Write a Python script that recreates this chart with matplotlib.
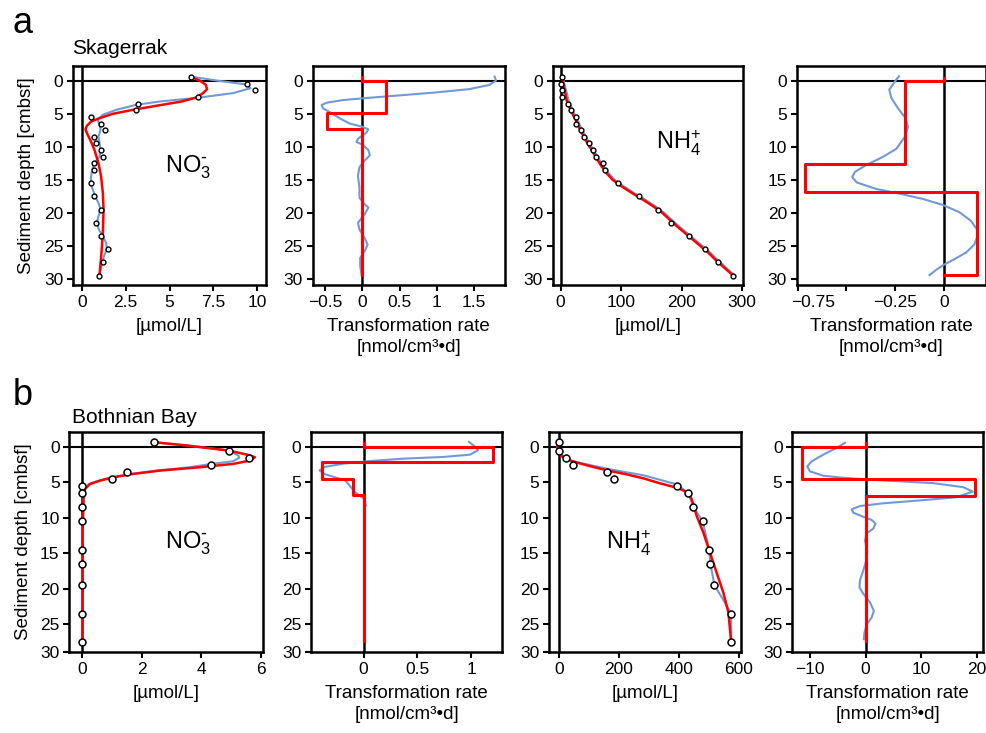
import matplotlib
matplotlib.use("Agg")
import matplotlib.pyplot as plt
import matplotlib.transforms as mtransforms
import numpy as np

plt.rcParams['font.family'] = ['Liberation Sans', 'DejaVu Sans']
plt.rcParams['mathtext.default'] = 'regular'

BLUE = '#6f9ad6'
RED = '#ff0000'

# ---- Skagerrak NO3 ----
a_no3_depth = [-0.5, 0.5, 1.5, 2.5, 3.5, 4.5, 5.5, 6.5, 7.5, 8.5, 9.5, 10.5, 11.5,
               12.5, 13.5, 15.5, 17.5, 19.5, 21.5, 23.5, 25.5, 27.5, 29.5]
a_no3_conc = [6.2, 9.4, 9.9, 6.6, 3.2, 3.1, 0.5, 1.1, 1.3, 0.7, 0.8, 1.1, 1.2,
              0.7, 0.7, 0.5, 0.7, 1.1, 0.8, 1.1, 1.5, 1.2, 1.0]
a_no3_blue_d = [-0.6, 0.0, 0.6, 1.16, 1.9, 2.57, 3.17, 3.67, 4.43, 5.18, 5.94, 6.7, 7.45,
                8.45, 9.46, 10.47, 11.47, 12.48, 13.49, 14.49, 15.5, 16.5, 17.5, 18.5,
                19.5, 20.5, 21.5, 22.5, 23.55, 24.56, 25.47, 26.57, 27.58, 28.59, 29.44]
a_no3_blue_c = [6.21, 7.68, 9.41, 9.62, 8.63, 6.72, 4.44, 3.10, 1.96, 1.20, 0.91, 1.01, 1.07,
                0.95, 1.01, 1.07, 1.01, 0.72, 0.59, 0.53, 0.50, 0.63, 0.76, 0.95,
                1.07, 0.95, 0.86, 0.97, 1.20, 1.39, 1.43, 1.26, 1.16, 1.07, 0.99]
a_no3_red_d = [-0.5, 0.0, 0.65, 1.31, 1.91, 2.57, 3.17, 3.82, 4.43, 5.03, 5.69, 6.19,
               6.84, 7.35, 7.95, 8.96, 10.47, 12.48, 14.49, 17.0, 19.53, 23.05, 26.07, 29.44]
a_no3_red_c = [6.25, 6.72, 7.07, 7.14, 6.91, 6.53, 5.68, 4.25, 2.91, 1.77, 1.01, 0.53,
               0.29, 0.21, 0.29, 0.48, 0.72, 0.95, 1.10, 1.20, 1.24, 1.20, 1.12, 1.01]

# ---- Skagerrak NO3 rate ----
a_no3_rate_edges = [-0.5, 0.0, 4.9, 7.4, 29.4]
a_no3_rate_vals = [0.0, 0.32, -0.48, 0.0]
a_no3_rate_blue_d = [-0.6, 0.0, 0.66, 1.3, 1.8, 2.2, 2.6, 2.95, 3.35, 3.7, 4.2, 4.9, 5.75,
                     6.5, 7.0, 7.37, 7.9, 8.8, 9.3, 9.66, 10.5, 11.3, 12.1, 13.1, 14.4,
                     16.2, 17.7, 18.7, 19.2, 20.2, 21.5, 22.5, 23.8, 24.8, 25.8, 26.8, 28.1, 29.4]
a_no3_rate_blue_v = [1.78, 1.80, 1.71, 1.44, 0.99, 0.55, 0.10, -0.26, -0.48, -0.55, -0.53, -0.42,
                     -0.30, -0.17, 0.0, 0.08, 0.05, -0.06, -0.08, 0.0, 0.08, 0.10, 0.03, -0.04,
                     -0.06, -0.04, -0.04, 0.03, 0.08, 0.03, -0.06, -0.04, 0.03, 0.07, 0.03,
                     -0.03, -0.03, -0.01]

# ---- Skagerrak NH4 ----
a_nh4_depth = [-0.56, 0.5, 1.5, 2.5, 3.5, 4.5, 5.5, 6.5, 7.5, 8.5, 9.5, 10.5, 11.5, 12.5,
               13.5, 15.5, 17.5, 19.5, 21.5, 23.5, 25.5, 27.5, 29.5]
a_nh4_conc = [2.8, 0.6, 1.7, 2.8, 12.1, 16.5, 25.3, 25.9, 33.0, 38.5, 46.2, 53.9, 58.3, 69.3,
              72.6, 94.7, 129.3, 161.8, 183.3, 211.9, 238.3, 260.9, 285.6]
a_nh4_line_d = [-0.6, 0.1, 1, 2, 3, 4, 5, 6, 7, 8, 9, 10, 11, 12, 13, 14, 15, 16, 17, 18, 19,
                20, 21, 22, 23, 24, 25, 26, 27, 28, 29.5]
a_nh4_red_c = [2.8, 3.5, 5.5, 8.0, 10.0, 14.5, 19.5, 25.0, 30.0, 35.5, 41.5, 48.0, 54.5, 61.0,
               68.0, 76.0, 86.0, 101.0, 118.0, 136.0, 153.0, 168.0, 180.0, 192.0, 205.0,
               218.0, 231.0, 244.0, 255.0, 267.0, 285.6]
a_nh4_blue_c = [3.5, 4.5, 7.0, 10.0, 12.5, 17.0, 22.0, 27.5, 32.5, 38.0, 44.0, 50.5, 57.0, 63.5,
                70.5, 78.5, 88.5, 103.5, 120.5, 138.5, 155.5, 170.5, 182.5, 194.5, 207.5,
                220.5, 233.5, 246.5, 257.5, 269.5, 287.0]

# ---- Skagerrak NH4 rate ----
a_nh4_rate_edges = [-0.4, 0.1, 12.6, 16.8, 29.4, 29.4]
a_nh4_rate_vals = [0.0, -0.2, -0.71, 0.17, 0.0]
a_nh4_rate_blue_d = [-0.66, 0.1, 1.37, 2.6, 4.2, 5.7, 7.0, 8.5, 10.3, 11.5, 12.8, 13.8, 14.6,
                     15.4, 16.4, 17.1, 17.9, 18.8, 19.9, 21.2, 22.5, 23.5, 24.8, 26.0, 27.0,
                     27.8, 28.6, 29.4]
a_nh4_rate_blue_v = [-0.23, -0.25, -0.28, -0.27, -0.235, -0.196, -0.184, -0.2, -0.243, -0.31,
                     -0.40, -0.456, -0.47, -0.447, -0.345, -0.226, -0.107, -0.005, 0.08, 0.139,
                     0.17, 0.173, 0.156, 0.114, 0.054, 0.003, -0.039, -0.073]

# ---- Bothnian Bay NO3 ----
b_no3_depth = [-0.66, 0.52, 1.51, 2.5, 3.48, 4.52, 5.5, 6.5, 8.5, 10.5, 14.5, 16.5, 19.5,
               23.5, 27.5]
b_no3_conc = [2.39, 4.92, 5.61, 4.31, 1.49, 1.0, 0, 0, 0, 0, 0, 0, 0, 0, 0]
b_no3_red_d = [-0.66, -0.2, 0.52, 1.08, 1.46, 1.93, 2.4, 2.87, 3.34, 3.81, 4.28, 4.76, 5.23,
               5.93, 7.1, 11.3, 27.6]
b_no3_red_c = [2.39, 3.5, 4.92, 5.52, 5.8, 5.63, 5.07, 3.95, 2.61, 1.71, 1.04, 0.59, 0.26,
               0.09, 0.03, 0.01, 0.0]
b_no3_blue_d = [-0.66, -0.2, 0.52, 1.22, 1.55, 2.02, 2.5, 2.87, 3.34, 3.81, 4.28, 4.76, 5.23,
                5.93, 7.1, 9.0, 11.3, 27.6]
b_no3_blue_c = [2.39, 3.5, 4.92, 5.24, 5.27, 5.07, 4.18, 3.6, 2.5, 1.65, 1.0, 0.55, 0.22,
                0.08, 0.06, 0.04, 0.01, 0.0]

# ---- Bothnian Bay NO3 rate ----
b_no3_rate_edges = [-0.5, 0.0, 2.2, 4.5, 6.8, 27.3]
b_no3_rate_vals = [0.0, 1.2, -0.39, -0.1, 0.0]
b_no3_rate_blue_d = [-0.7, -0.1, 0.47, 1.1, 1.42, 1.66, 2.0, 2.37, 2.85, 3.32, 3.8, 4.27,
                     4.74, 5.46, 6.4, 6.9, 7.35, 8.3]
b_no3_rate_blue_v = [0.98, 1.03, 1.065, 0.99, 0.74, 0.37, 0.06, -0.19, -0.37, -0.41, -0.37,
                     -0.27, -0.17, -0.13, -0.08, -0.034, 0.006, 0.02]

# ---- Bothnian Bay NH4 ----
b_nh4_depth = [-0.71, 0.57, 1.5, 2.55, 3.54, 4.48, 5.52, 6.51, 8.54, 10.5, 14.5, 16.5, 19.5,
               23.5, 27.5]
b_nh4_conc = [0, 1, 22, 44.6, 160.6, 181.8, 393.7, 431.6, 448.3, 479.5, 500.7, 505.2, 518.6,
              574.3, 574.3]
b_nh4_red_d = [-0.71, -0.14, 0.57, 1.13, 1.75, 2.2, 2.83, 3.4, 3.87, 4.43, 5.14, 5.75, 6.46,
               7.4, 9.76, 12.1, 14.95, 17.8, 20.6, 23.4, 27.5]
b_nh4_red_c = [0, -5.6, -6.7, 2.2, 24.5, 58, 113.7, 169.5, 225, 281, 336.8, 392.6, 431.6,
               442.7, 459.5, 481.8, 504, 526.4, 548.7, 565.4, 574.3]
b_nh4_blue_d = [-0.71, -0.14, 0.57, 1.27, 1.98, 2.45, 3.16, 4.0, 5.28, 6.5, 8.5, 10.5, 14.5,
                16.5, 19.5, 21.6, 23.5, 27.5]
b_nh4_blue_c = [0, -6, -3, 13.4, 41.3, 91.4, 169.5, 281, 392.6, 431.6, 448.3, 479.5, 500.7,
                505.2, 518.6, 548.7, 574.3, 574.3]

# ---- Bothnian Bay NH4 rate ----
b_nh4_rate_edges = [-0.5, 0.0, 4.55, 6.87, 27.4]
b_nh4_rate_vals = [0.0, -11.5, 19.8, 0.0]
b_nh4_rate_blue_d = [-0.57, 0.14, 1.09, 2.04, 2.75, 3.46, 4.07, 4.4, 4.73, 5.11, 5.68, 6.3,
                     7.1, 7.58, 7.95, 8.33, 8.8, 9.28, 9.85, 10.3, 10.8, 11.5, 12.2, 13.2,
                     14.6, 15.8, 17.4, 18.8, 19.8, 20.7, 21.9, 23.1, 24.05, 25.0, 26.2, 27.1]
b_nh4_rate_blue_v = [-3.7, -5.2, -7.6, -9.7, -10.5, -10.0, -7.6, -3.4, 3.2, 12.2, 17.6, 19.3,
                     16.4, 9.2, 3.2, -1.0, -2.5, -2.2, -0.4, 1.1, 1.8, 1.4, 0.2, -0.1,
                     0.3, 0.2, -0.4, -1.0, -1.1, -0.4, 0.8, 1.5, 1.1, 0.2, -0.2, -0.3]


def step_xy(edges, vals):
    xs = np.repeat(vals, 2)
    ys = np.column_stack([edges[:-1], edges[1:]]).ravel()
    return xs, ys


def setup(ax, xlim, xticks, xlabels, row, xlabel):
    ax.set_xlim(*xlim)
    if row == 'a':
        ax.set_ylim(30.9, -2.2)
        ax.set_yticks([0, 5, 10, 15, 20, 25, 30])
    else:
        # axis is cut short, the "30" label sits on the bottom edge
        ax.set_ylim(28.9, -2.1)
        ax.set_yticks([0, 5, 10, 15, 20, 25, 28.9])
    ax.set_yticklabels(['0', '5', '10', '15', '20', '25', '30'])
    ax.set_xticks(xticks)
    ax.set_xticklabels(xlabels)
    ax.axhline(0, color='black', lw=1.5, zorder=1)
    ax.axvline(0, color='black', lw=1.8, zorder=1)
    for s in ax.spines.values():
        s.set_linewidth(1.8)
    ax.tick_params(direction='out', length=4, width=1.5, labelsize=12.5, pad=3)
    ax.set_xlabel(xlabel, fontsize=13.5, labelpad=6, linespacing=1.3)


fig = plt.figure(figsize=(9.87, 7.33), dpi=100)

rowa_b, rowa_h = 0.6112, 0.2988
rowb_b, rowb_h = 0.1105, 0.3002
ax_a = [fig.add_axes([0.074, rowa_b, 0.1955, rowa_h]),
        fig.add_axes([0.3168, rowa_b, 0.1948, rowa_h]),
        fig.add_axes([0.560, rowa_b, 0.1925, rowa_h]),
        fig.add_axes([0.8072, rowa_b, 0.1915, rowa_h])]
ax_b = [fig.add_axes([0.0702, rowb_b, 0.1966, rowb_h]),
        fig.add_axes([0.3151, rowb_b, 0.1938, rowb_h]),
        fig.add_axes([0.5562, rowb_b, 0.1942, rowb_h]),
        fig.add_axes([0.8027, rowb_b, 0.1935, rowb_h])]

conc_label = '[µmol/L]'
rate_label = 'Transformation rate\n[nmol/cm³•d]'
no3_text = r'NO$_3^{\text{-}}$'
nh4_text = r'NH$_4^{+}$'

# row a
ax = ax_a[0]
ax.plot(a_no3_blue_c, a_no3_blue_d, color=BLUE, lw=1.5, zorder=2)
ax.plot(a_no3_red_c, a_no3_red_d, color=RED, lw=1.8, zorder=3)
ax.plot(a_no3_conc, a_no3_depth, 'o', ms=3.5, mfc='white', mec='black', mew=1.0, zorder=4)
setup(ax, (-0.5, 10.5), [0, 2.5, 5, 7.5, 10], ['0', '2.5', '5', '7.5', '10'], 'a', conc_label)
ax.text(4.72, 13.9, no3_text, fontsize=17, ha='left', va='baseline')
ax.set_ylabel('Sediment depth [cmbsf]', fontsize=13.5, labelpad=6)

ax = ax_a[1]
ax.plot(a_no3_rate_blue_v, a_no3_rate_blue_d, color=BLUE, lw=1.5, zorder=2)
x, y = step_xy(a_no3_rate_edges, a_no3_rate_vals)
ax.plot(x, y, color=RED, lw=2.2, zorder=3)
setup(ax, (-0.67, 1.92), [-0.5, 0, 0.5, 1, 1.5], ['\u22120.5', '0', '0.5', '1', '1.5'], 'a', rate_label)

ax = ax_a[2]
ax.plot(a_nh4_blue_c, a_nh4_line_d, color=BLUE, lw=2.0, zorder=2)
ax.plot(a_nh4_red_c, a_nh4_line_d, color=RED, lw=1.8, zorder=3)
ax.plot(a_nh4_conc, a_nh4_depth, 'o', ms=3.5, mfc='white', mec='black', mew=1.0, zorder=4)
setup(ax, (-13, 301), [0, 100, 200, 300], ['0', '100', '200', '300'], 'a', conc_label)
ax.text(158.5, 10.45, nh4_text, fontsize=17, ha='left', va='baseline')

ax = ax_a[3]
ax.plot(a_nh4_rate_blue_v, a_nh4_rate_blue_d, color=BLUE, lw=1.5, zorder=2)
x, y = step_xy(a_nh4_rate_edges, a_nh4_rate_vals)
ax.plot(x, y, color=RED, lw=2.2, zorder=3)
setup(ax, (-0.755, 0.215), [-0.75, -0.5, -0.25, 0], ['\u22120.75', '', '\u22120.25', '0'], 'a', rate_label)
lab = ax.get_xticklabels()[0]
lab.set_horizontalalignment('left')
lab.set_transform(lab.get_transform() + mtransforms.ScaledTranslation(-0.07, 0, fig.dpi_scale_trans))

# row b
ax = ax_b[0]
ax.plot(b_no3_blue_c, b_no3_blue_d, color=BLUE, lw=1.5, zorder=2)
ax.plot(b_no3_red_c, b_no3_red_d, color=RED, lw=1.8, zorder=3)
ax.plot(b_no3_conc, b_no3_depth, 'o', ms=5, mfc='white', mec='black', mew=1.1, zorder=4)
setup(ax, (-0.44, 6.08), [0, 2, 4, 6], ['0', '2', '4', '6'], 'b', conc_label)
ax.text(2.78, 14.27, no3_text, fontsize=17, ha='left', va='baseline')
ax.set_ylabel('Sediment depth [cmbsf]', fontsize=13.5, labelpad=6)

ax = ax_b[1]
ax.plot(b_no3_rate_blue_v, b_no3_rate_blue_d, color=BLUE, lw=1.5, zorder=2)
x, y = step_xy(b_no3_rate_edges, b_no3_rate_vals)
ax.plot(x, y, color=RED, lw=2.2, zorder=3)
setup(ax, (-0.49, 1.29), [0, 0.5, 1], ['0', '0.5', '1'], 'b', rate_label)

ax = ax_b[2]
ax.plot(b_nh4_blue_c, b_nh4_blue_d, color=BLUE, lw=1.5, zorder=2)
ax.plot(b_nh4_red_c, b_nh4_red_d, color=RED, lw=1.8, zorder=3)
ax.plot(b_nh4_conc, b_nh4_depth, 'o', ms=5, mfc='white', mec='black', mew=1.1, zorder=4)
setup(ax, (-34, 606), [0, 200, 400, 600], ['0', '200', '400', '600'], 'b', conc_label)
ax.text(155, 14.5, nh4_text, fontsize=17, ha='left', va='baseline')

ax = ax_b[3]
ax.plot(b_nh4_rate_blue_v, b_nh4_rate_blue_d, color=BLUE, lw=1.5, zorder=2)
x, y = step_xy(b_nh4_rate_edges, b_nh4_rate_vals)
ax.plot(x, y, color=RED, lw=2.2, zorder=3)
setup(ax, (-13.2, 21.2), [-10, 0, 10, 20], ['\u221210', '0', '10', '20'], 'b', rate_label)

fig.text(0.013, 0.955, 'a', fontsize=26, ha='left', va='baseline')
fig.text(0.0726, 0.927, 'Skagerrak', fontsize=15, ha='left', va='baseline')
fig.text(0.013, 0.4475, 'b', fontsize=26, ha='left', va='baseline')
fig.text(0.0726, 0.4225, 'Bothnian Bay', fontsize=15, ha='left', va='baseline')

fig.savefig('out.png', dpi=100)
